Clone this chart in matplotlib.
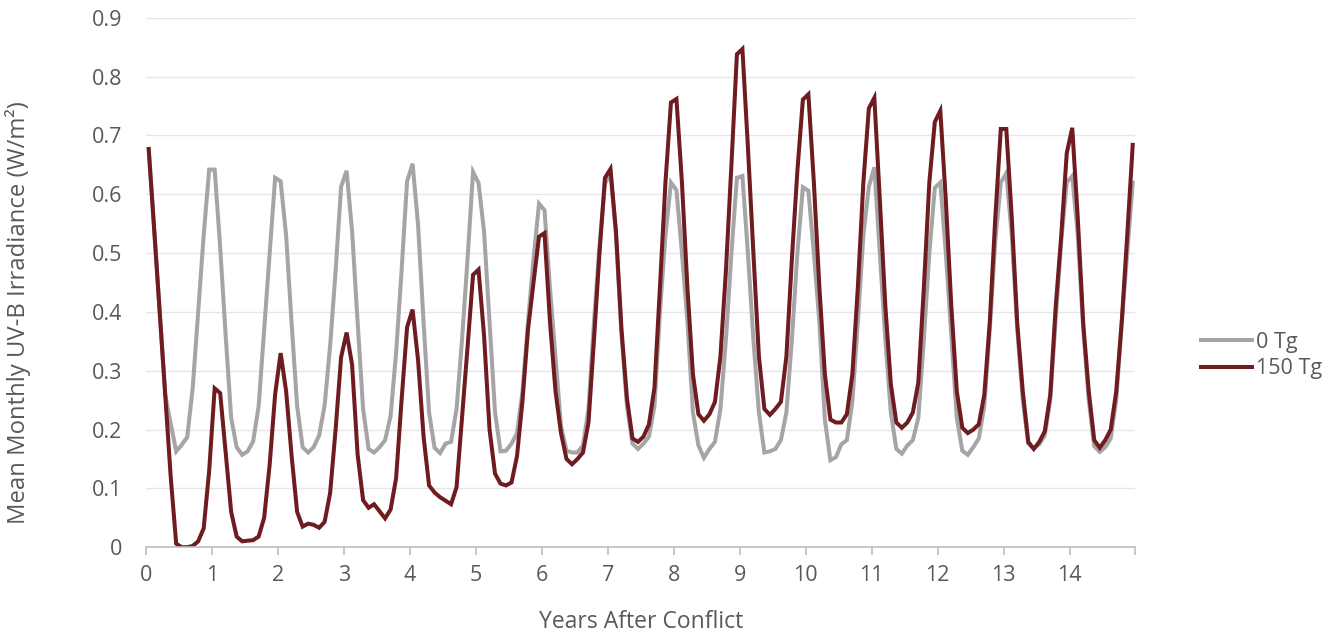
import matplotlib
matplotlib.use("Agg")
import matplotlib.pyplot as plt
import numpy as np

# monthly mean UV-B irradiance (W/m2), one row per year
tg0 = [
    0.677, 0.54, 0.40, 0.26, 0.21, 0.163, 0.174, 0.187, 0.27, 0.40, 0.53, 0.642,
    0.642, 0.51, 0.36, 0.22, 0.17, 0.157, 0.163, 0.18, 0.24, 0.37, 0.50, 0.628,
    0.622, 0.53, 0.38, 0.24, 0.17, 0.161, 0.17, 0.19, 0.241, 0.342, 0.47, 0.613,
    0.640, 0.537, 0.383, 0.235, 0.167, 0.161, 0.17, 0.182, 0.223, 0.33, 0.47, 0.622,
    0.652, 0.548, 0.383, 0.229, 0.169, 0.16, 0.176, 0.179, 0.235, 0.353, 0.49, 0.638,
    0.619, 0.537, 0.383, 0.229, 0.163, 0.164, 0.176, 0.194, 0.265, 0.383, 0.49, 0.584,
    0.573, 0.44, 0.324, 0.206, 0.164, 0.161, 0.161, 0.173, 0.235, 0.383, 0.513, 0.618,
    0.636, 0.53, 0.36, 0.24, 0.176, 0.167, 0.176, 0.188, 0.24, 0.40, 0.53, 0.62,
    0.607, 0.50, 0.383, 0.229, 0.173, 0.152, 0.167, 0.179, 0.235, 0.353, 0.50, 0.628,
    0.631, 0.50, 0.353, 0.229, 0.161, 0.163, 0.167, 0.182, 0.229, 0.353, 0.50, 0.612,
    0.606, 0.50, 0.383, 0.217, 0.148, 0.153, 0.175, 0.182, 0.247, 0.383, 0.53, 0.613,
    0.646, 0.50, 0.353, 0.229, 0.167, 0.159, 0.173, 0.182, 0.22, 0.353, 0.50, 0.611,
    0.62, 0.50, 0.36, 0.22, 0.164, 0.157, 0.17, 0.185, 0.24, 0.37, 0.52, 0.62,
    0.636, 0.53, 0.37, 0.25, 0.176, 0.168, 0.175, 0.19, 0.25, 0.39, 0.52, 0.62,
    0.631, 0.53, 0.37, 0.25, 0.172, 0.162, 0.17, 0.185, 0.25, 0.38, 0.50, 0.62,
]

tg150 = [
    0.677, 0.54, 0.40, 0.26, 0.12, 0.006, 0.0, 0.0, 0.002, 0.01, 0.032, 0.13,
    0.27, 0.262, 0.16, 0.06, 0.018, 0.01, 0.011, 0.012, 0.018, 0.05, 0.14, 0.26,
    0.33, 0.265, 0.155, 0.06, 0.035, 0.04, 0.038, 0.033, 0.043, 0.092, 0.20, 0.323,
    0.365, 0.31, 0.158, 0.08, 0.067, 0.073, 0.061, 0.049, 0.064, 0.117, 0.25, 0.374,
    0.404, 0.318, 0.188, 0.105, 0.093, 0.085, 0.079, 0.073, 0.102, 0.22, 0.34, 0.463,
    0.472, 0.36, 0.20, 0.125, 0.108, 0.105, 0.11, 0.155, 0.25, 0.37, 0.45, 0.528,
    0.534, 0.383, 0.265, 0.194, 0.15, 0.141, 0.15, 0.161, 0.212, 0.353, 0.50, 0.628,
    0.643, 0.537, 0.371, 0.253, 0.185, 0.179, 0.188, 0.209, 0.271, 0.442, 0.62, 0.756,
    0.762, 0.62, 0.44, 0.294, 0.226, 0.215, 0.226, 0.247, 0.324, 0.47, 0.65, 0.838,
    0.847, 0.68, 0.50, 0.324, 0.235, 0.225, 0.235, 0.247, 0.324, 0.49, 0.64, 0.761,
    0.770, 0.62, 0.442, 0.294, 0.217, 0.212, 0.212, 0.226, 0.294, 0.442, 0.62, 0.746,
    0.764, 0.59, 0.41, 0.277, 0.212, 0.203, 0.212, 0.229, 0.28, 0.44, 0.62, 0.723,
    0.742, 0.59, 0.41, 0.265, 0.203, 0.194, 0.20, 0.209, 0.259, 0.383, 0.56, 0.711,
    0.711, 0.56, 0.38, 0.265, 0.179, 0.167, 0.179, 0.197, 0.259, 0.41, 0.53, 0.67,
    0.713, 0.56, 0.38, 0.265, 0.182, 0.169, 0.182, 0.20, 0.265, 0.383, 0.53, 0.684,
]

series_labels = ["0 Tg", "150 Tg"]
year_ticks = list(range(0, 15))
y_ticks = [0, 0.1, 0.2, 0.3, 0.4, 0.5, 0.6, 0.7, 0.8, 0.9]

GREY = "#A5A5A5"
MAROON = "#6E1C1F"
TEXT = "#595959"

plt.rcParams["font.family"] = ["Open Sans", "DejaVu Sans"]

fig = plt.figure(figsize=(13.39, 6.37), dpi=100)
ax = fig.add_axes([0.109, 0.141, 0.739, 0.831])

# category axis: each month sits in the middle of its slot
months = np.arange(len(tg0))
x = (months + 0.5) / 12

ax.plot(x, tg0, color=GREY, lw=2.9, label=series_labels[0], solid_joinstyle="miter")
ax.plot(x, tg150, color=MAROON, lw=2.9, label=series_labels[1], solid_joinstyle="miter")

ax.set_xlim(0, 15)
ax.set_ylim(0, 0.9)

ax.set_yticks(y_ticks)
ax.set_yticklabels(["0" if v == 0 else f"{v:.1f}" for v in y_ticks])
ax.set_xticks(year_ticks + [15])
ax.set_xticklabels([str(v) for v in year_ticks] + [""])

ax.grid(axis="y", color="#E6E6E6", lw=1.0)
ax.set_axisbelow(True)
for side in ["top", "right", "left"]:
    ax.spines[side].set_visible(False)
ax.spines["bottom"].set_color("#BFBFBF")
ax.spines["bottom"].set_linewidth(1.2)

ax.tick_params(axis="y", length=0, pad=17, labelsize=15.5, labelcolor=TEXT)
ax.tick_params(axis="x", direction="out", length=6, width=1.2, color="#BFBFBF",
               pad=7, labelsize=15.5, labelcolor=TEXT)

ax.set_xlabel("Years After Conflict", fontsize=16.5, color=TEXT)
ax.xaxis.set_label_coords(0.5, -0.118)
ax.set_ylabel("Mean Monthly UV-B Irradiance (W/m²)", fontsize=17.2, color=TEXT)
ax.yaxis.set_label_coords(-0.116, 0.444)

leg = ax.legend(loc="center left", bbox_to_anchor=(1.066, 0.362), frameon=False,
                fontsize=15.5, handlelength=2.4, handletextpad=0.15, labelspacing=0.25,
                borderpad=0, borderaxespad=0)
for t in leg.get_texts():
    t.set_color(TEXT)

fig.savefig("out.png", dpi=100)
